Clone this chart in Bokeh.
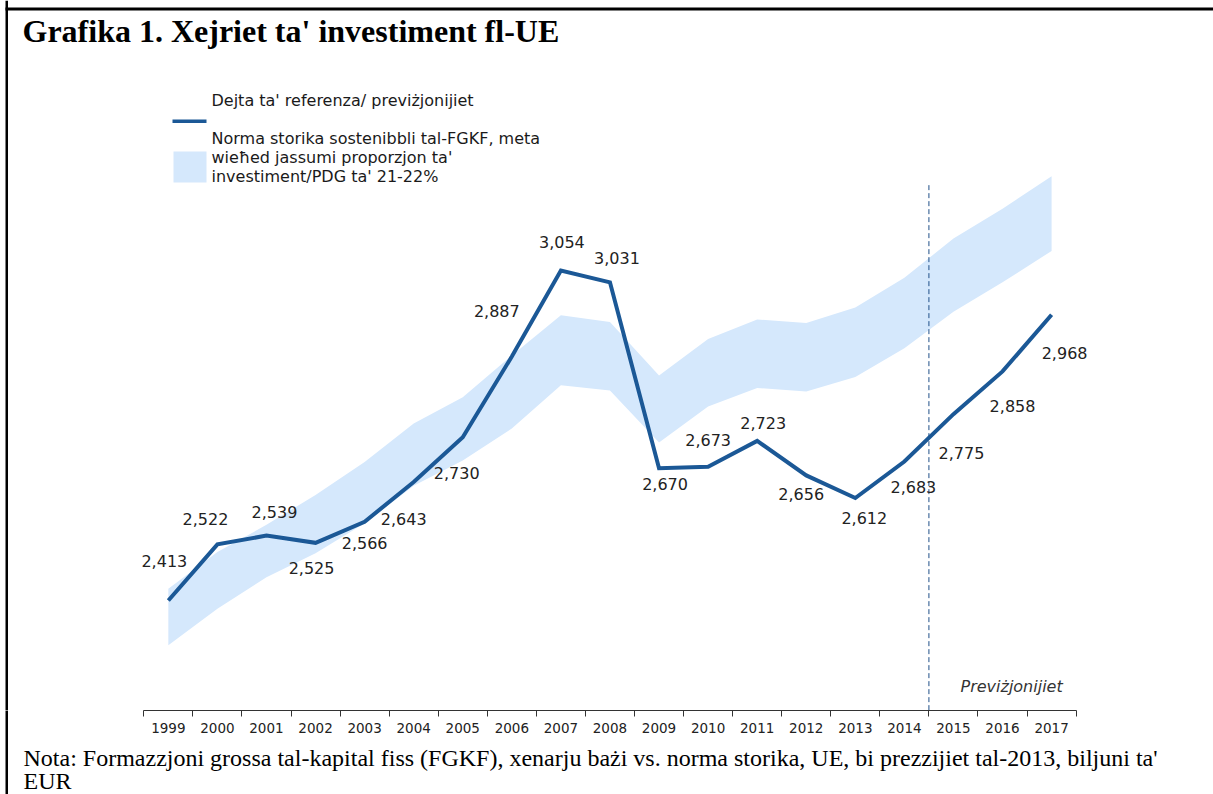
from bokeh.plotting import figure
from bokeh.layouts import column
from bokeh.models import Label, BoxAnnotation, FixedTicker, Range1d, ColumnDataSource
from bokeh.core.properties import value
from bokeh.embed import file_html
from bokeh.resources import INLINE

# ---------------- data ----------------
YEARS = [1999, 2000, 2001, 2002, 2003, 2004, 2005, 2006, 2007, 2008,
         2009, 2010, 2011, 2012, 2013, 2014, 2015, 2016, 2017]
GFCF = [2413, 2522, 2539, 2525, 2566, 2643, 2730, 2887, 3054, 3031,
        2670, 2673, 2723, 2656, 2612, 2683, 2775, 2858, 2968]
NORM_LOW = [2326, 2397, 2458, 2505, 2563, 2636, 2685, 2747, 2831, 2821,
            2720, 2790, 2826, 2819, 2847, 2903, 2974, 3031, 3092]
NORM_HIGH = [2436, 2507, 2560, 2618, 2682, 2757, 2808, 2889, 2967, 2954,
             2850, 2921, 2959, 2952, 2982, 3040, 3116, 3174, 3237]
FORECAST_START = 2015
DIVIDER_TOP = 3225
Y_BASE = 2200

TITLE = "Grafika 1. Xejriet ta' investiment fl-UE"
LEGEND_LINE = "Dejta ta' referenza/ previżjonijiet"
LEGEND_BAND = ["Norma storika sostenibbli tal-FGKF, meta",
               "wieħed jassumi proporzjon ta'",
               "investiment/PDG ta' 21-22%"]
FORECAST_LABEL = "Previżjonijiet"
NOTE = ["Nota: Formazzjoni grossa tal-kapital fiss (FGKF), xenarju bażi vs. norma storika, UE, bi prezzijiet tal-2013, biljuni ta'",
        "EUR"]

# label offsets (screen px, +down) -- styling only
LBL_DX = [-4, -12, 8, -4, 0, -10, -6, -15, 1, 7, 6, 0, 6, -5, 9, 9, 8, 10, 13]
LBL_DY = [-39, -25, -24, 25, 21, 37, 36, -45, -29, -24, 16, -27, -18, 19, 20, 25, 39, 35, 38]

# ---------------- layout / style constants ----------------
LINE_COLOR = "#1b5896"
BAND_COLOR = "#d5e8fc"
FONT = "DejaVu Sans"
W = 1213
H_MAIN = 738
FRAME_H = 710          # frame spans page y 0..710
H_NOTE = 794 - FRAME_H
AXIS_LEFT_PX = 143.3   # page x of the 1998.5 boundary
PX_PER_YEAR = 49.07
PX_PER_UNIT = 0.5148
AXIS_Y_PX = 709.65     # page y of Y_BASE

x0 = YEARS[0] - 0.5 - AXIS_LEFT_PX / PX_PER_YEAR
x1 = x0 + W / PX_PER_YEAR
y_bot = Y_BASE - (FRAME_H - AXIS_Y_PX) / PX_PER_UNIT
y_top = y_bot + FRAME_H / PX_PER_UNIT

p = figure(width=W, height=H_MAIN,
           x_range=Range1d(x0, x1), y_range=Range1d(y_bot, y_top),
           output_backend="svg", toolbar_location=None,
           y_axis_location=None,
           min_border_left=0, min_border_right=0,
           min_border_top=0, min_border_bottom=H_MAIN - FRAME_H)
p.outline_line_color = None
p.grid.visible = False
p.background_fill_color = "white"
p.border_fill_alpha = 0

# band
p.varea(x=YEARS, y1=NORM_LOW, y2=NORM_HIGH, fill_color=BAND_COLOR)

# divider between history and forecast
xd = FORECAST_START - 0.5
p.segment(x0=[xd], y0=[Y_BASE], x1=[xd], y1=[DIVIDER_TOP],
          line_color="#1f4f88", line_width=1, line_dash="5 3")

# investment line
p.line(YEARS, GFCF, line_color=LINE_COLOR, line_width=4, line_join="miter")

# data labels
src = ColumnDataSource(dict(x=YEARS, y=GFCF, t=[f"{v:,}" for v in GFCF],
                            dx=LBL_DX, dy=LBL_DY))
p.text(x="x", y="y", text="t", x_offset="dx", y_offset="dy", source=src,
       text_font=value(FONT), text_font_size="16px", text_color="#222222",
       text_align="center", text_baseline="middle")

# x axis
ax = p.xaxis[0]
ax.bounds = (YEARS[0] - 0.5, YEARS[-1] + 0.5)
ax.ticker = FixedTicker(ticks=YEARS,
                        minor_ticks=[y - 0.5 for y in YEARS] + [YEARS[-1] + 0.5])
ax.major_label_overrides = {y: str(y) for y in YEARS}
ax.major_tick_out = 0
ax.major_tick_in = 0
ax.minor_tick_out = 6
ax.minor_tick_in = 0
ax.minor_tick_line_color = "#333333"
ax.axis_line_color = "#333333"
ax.major_label_standoff = 6
ax.major_label_text_font = FONT
ax.major_label_text_font_size = "13.5px"
ax.major_label_text_color = "#222222"


def add_label(fig, fb, txt, px, py, size, font=FONT, style="normal",
              color="#1a1a1a"):
    fig.add_layout(Label(x=px, y=fb - py, x_units="screen", y_units="screen",
                         text=txt, text_font=font, text_font_size=size,
                         text_font_style=style, text_color=color,
                         text_baseline="middle", text_align="left"))


def add_box(fig, fb, left, right, top, bottom, color):
    fig.add_layout(BoxAnnotation(left=left, right=right, top=fb - top, bottom=fb - bottom,
                                 left_units="screen", right_units="screen",
                                 bottom_units="screen", top_units="screen",
                                 fill_color=color, fill_alpha=1, line_color=None))


FB = FRAME_H  # frame bottom (page y) of main figure

add_label(p, FB, TITLE, 22, 30, "32px", font="Liberation Serif", style="bold",
          color="black")

# legend
add_box(p, FB, 172, 206, 119, 122.5, LINE_COLOR)
add_box(p, FB, 173, 206, 151, 182, BAND_COLOR)
add_label(p, FB, LEGEND_LINE, 211, 100, "16px")
for i, t in enumerate(LEGEND_BAND):
    add_label(p, FB, t, 211, 138 + 19 * i, "16px")

add_label(p, FB, FORECAST_LABEL, 960, 686, "16px", style="italic", color="#333333")

# borders
add_box(p, FB, 5, 7.5, 0, FRAME_H, "black")
add_box(p, FB, 5, W, 7, 10, "black")

# ---------------- note figure (overlaps the axis band, transparent) ----------------
n = figure(width=W, height=H_NOTE, x_range=Range1d(0, W), y_range=Range1d(0, H_NOTE),
           output_backend="svg", toolbar_location=None,
           x_axis_location=None, y_axis_location=None,
           min_border_left=0, min_border_right=0, min_border_top=0, min_border_bottom=0)
n.outline_line_color = None
n.grid.visible = False
n.background_fill_alpha = 0
n.border_fill_alpha = 0
n.margin = (FRAME_H - H_MAIN, 0, 0, 0)
NB = 794  # note frame bottom in page y
add_label(n, NB, NOTE[0], 23, 757, "24px", font="Liberation Serif", color="black")
add_label(n, NB, NOTE[1], 23, 780, "24px", font="Liberation Serif", color="black")
add_box(n, NB, 5, 7.5, FRAME_H, 794, "black")

layout = column(p, n, spacing=0)
open("out.html", "w").write(file_html(layout, INLINE))
